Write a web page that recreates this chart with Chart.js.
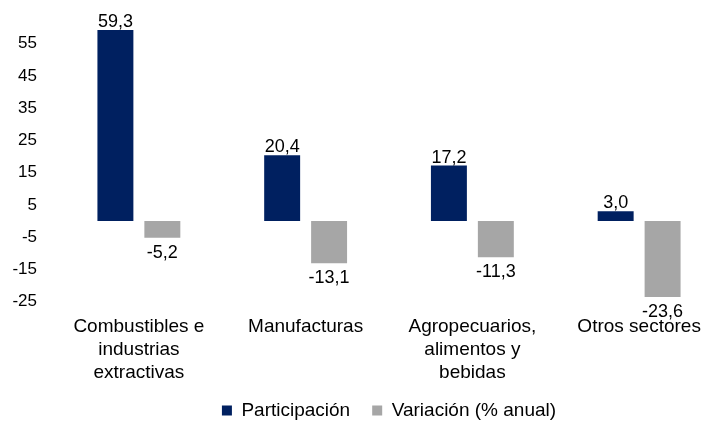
<!DOCTYPE html>
<html>
<head>
<meta charset="utf-8">
<script src="https://cdn.jsdelivr.net/npm/chart.js@4.4.0/dist/chart.umd.min.js"></script>
<style>
  html, body { margin: 0; padding: 0; background: #fff; overflow: hidden; }
  #wrap { width: 725px; height: 430px; }
</style>
</head>
<body>
<div id="wrap"><canvas id="chart"></canvas></div>
<script>
var categories = [
  ["Combustibles e", "industrias", "extractivas"],
  ["Manufacturas"],
  ["Agropecuarios,", "alimentos y", "bebidas"],
  ["Otros sectores"]
];
var participacion = [59.3, 20.4, 17.2, 3.0];
var variacion = [-5.2, -13.1, -11.3, -23.6];
var yTicks = [-25, -15, -5, 5, 15, 25, 35, 45, 55];

var fontFamily = "'Liberation Sans', Arial, sans-serif";

// etiquetas de valor con coma decimal
var valueLabels = {
  id: 'valueLabels',
  afterDatasetsDraw: function(chart) {
    var ctx = chart.ctx;
    ctx.save();
    ctx.font = '18px ' + fontFamily;
    ctx.fillStyle = '#000';
    ctx.textAlign = 'center';
    ctx.textBaseline = 'alphabetic';
    chart.data.datasets.forEach(function(ds, i) {
      chart.getDatasetMeta(i).data.forEach(function(bar, j) {
        var v = ds.data[j];
        var txt = v.toFixed(1).replace('.', ',');
        if (v >= 0) {
          ctx.fillText(txt, bar.x, bar.y - 3);
        } else {
          ctx.fillText(txt, bar.x, bar.y + 20);
        }
      });
    });
    ctx.restore();
  }
};

var config = {
  type: 'bar',
  data: {
    labels: categories,
    datasets: [{
      label: 'Participación',
      data: participacion,
      backgroundColor: '#002060',
      categoryPercentage: 0.563,
      barPercentage: 0.766
    }, {
      label: 'Variación (% anual)',
      data: variacion,
      backgroundColor: '#A6A6A6',
      categoryPercentage: 0.563,
      barPercentage: 0.766
    }]
  },
  options: {
    responsive: true,
    maintainAspectRatio: false,
    animation: false,
    layout: {
      padding: { top: 11.6, left: 0, right: 2.5, bottom: 0 }
    },
    scales: {
      x: {
        grid: { display: false, drawTicks: false },
        border: { display: false },
        afterFit: function(axis) {
          axis.height = 77.5;
        },
        ticks: {
          color: '#000',
          padding: 14,
          font: { family: fontFamily, size: 19, lineHeight: 1.21 },
          maxRotation: 0,
          autoSkip: false
        }
      },
      y: {
        min: -25,
        max: 65,
        grid: { display: false, drawTicks: false },
        border: { display: false },
        afterBuildTicks: function(axis) {
          axis.ticks = yTicks.map(function(v) { return { value: v }; });
        },
        afterFit: function(axis) {
          axis.width = 55.5;
          axis.paddingTop = 0;
          axis.paddingBottom = 0;
        },
        ticks: {
          color: '#000',
          padding: 18.5,
          font: { family: fontFamily, size: 17 }
        }
      }
    },
    plugins: {
      legend: {
        position: 'bottom',
        fullSize: false,
        labels: {
          color: '#000',
          boxWidth: 10,
          boxHeight: 10,
          padding: 22,
          font: { family: fontFamily, size: 19 }
        }
      },
      tooltip: { enabled: false }
    }
  },
  plugins: [valueLabels]
};

window.onload = function() {
  var ctx = document.getElementById('chart').getContext('2d');
  window.myBar = new Chart(ctx, config);
};
</script>
</body>
</html>
